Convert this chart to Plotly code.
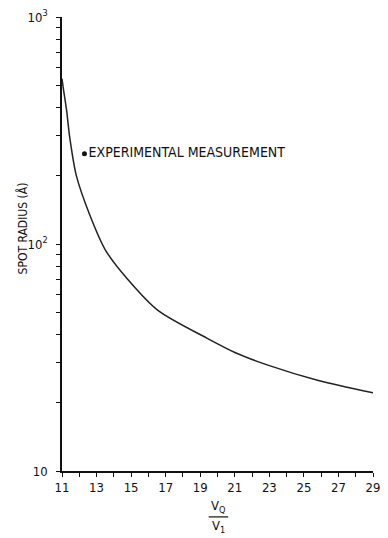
import plotly.graph_objects as go

# Curve: spot radius (Å) vs Vq/V1
ratio = [11.0, 11.07, 11.27, 11.45, 11.83, 12.58, 13.53, 14.85, 16.55, 19.38, 21.07, 22.96, 25.79, 29.0]
spot_radius = [535, 489, 386, 294, 200, 136, 93.6, 69.2, 51.0, 38.5, 33.1, 29.2, 25.1, 22.1]

# Experimental measurement
exp_ratio = [12.3]
exp_radius = [250]

x_ticks = list(range(11, 30))
x_ticktext = [str(v) if v % 2 == 1 else "" for v in x_ticks]

y_ticks = [m * 10 ** e for e in (1, 2) for m in range(1, 10)] + [1000]
y_major = {10: "10", 100: "10<sup>2</sup>", 1000: "10<sup>3</sup>"}
y_ticktext = [y_major.get(v, "") for v in y_ticks]

FONT = "DejaVu Sans Condensed"
W, H = 388, 538
ML, MR, MT, MB = 62, 8, 16, 67

fig = go.Figure()
fig.add_trace(go.Scatter(x=ratio, y=spot_radius, mode="lines",
                         line=dict(color="#222", width=1.5, shape="spline", smoothing=0.8),
                         showlegend=False, hoverinfo="skip"))
fig.add_trace(go.Scatter(x=exp_ratio, y=exp_radius, mode="markers+text",
                         marker=dict(color="#111", size=5),
                         text=["EXPERIMENTAL MEASUREMENT"], textposition="middle right",
                         textfont=dict(family=FONT, size=14, color="#111"),
                         showlegend=False, hoverinfo="skip"))

fig.update_xaxes(range=[11, 29], tickvals=x_ticks, ticktext=x_ticktext,
                 ticks="outside", ticklen=4, tickwidth=1.2, tickcolor="#111",
                 showline=True, linecolor="#111", linewidth=1.5,
                 showgrid=False, zeroline=False,
                 tickfont=dict(family=FONT, size=13, color="#111"))
fig.update_yaxes(type="log", range=[1, 3], tickvals=y_ticks, ticktext=y_ticktext,
                 ticks="outside", ticklen=4, tickwidth=1.2, tickcolor="#111",
                 showline=True, linecolor="#111", linewidth=1.5,
                 showgrid=False, zeroline=False, ticklabelstandoff=6,
                 tickfont=dict(family=FONT, size=13, color="#111"))

fig.update_layout(width=W, height=H, margin=dict(l=ML, r=MR, t=MT, b=MB),
                  paper_bgcolor="white", plot_bgcolor="white")

plot_h = H - MT - MB
plot_w = W - ML - MR
def py_to_paper(py):
    return (H - MB - py) / plot_h
def px_to_paper(px):
    return (px - ML) / plot_w

# y-axis title
fig.add_annotation(x=px_to_paper(22), xref="paper", y=py_to_paper(228), yref="paper",
                   xanchor="center", yanchor="middle",
                   text="SPOT RADIUS (Å)", textangle=-90, showarrow=False,
                   font=dict(family=FONT, size=12, color="#111"))

# x-axis title as a fraction V_Q / V_1
cx = px_to_paper(222)
fig.add_annotation(x=cx, xref="paper", y=py_to_paper(507), yref="paper", text="V<sub>Q</sub>",
                   xanchor="center", yanchor="middle",
                   showarrow=False, font=dict(family=FONT, size=13, color="#111"))
fig.add_annotation(x=cx, xref="paper", y=py_to_paper(527), yref="paper", text="V<sub>1</sub>",
                   xanchor="center", yanchor="middle",
                   showarrow=False, font=dict(family=FONT, size=13, color="#111"))
fig.add_shape(type="line", xref="paper", yref="paper",
              x0=px_to_paper(212), x1=px_to_paper(232), y0=py_to_paper(517), y1=py_to_paper(517),
              line=dict(color="#111", width=1.2))

fig.write_html("out.html", config={"displayModeBar": False},
               post_script="document.body.style.margin='0';")
